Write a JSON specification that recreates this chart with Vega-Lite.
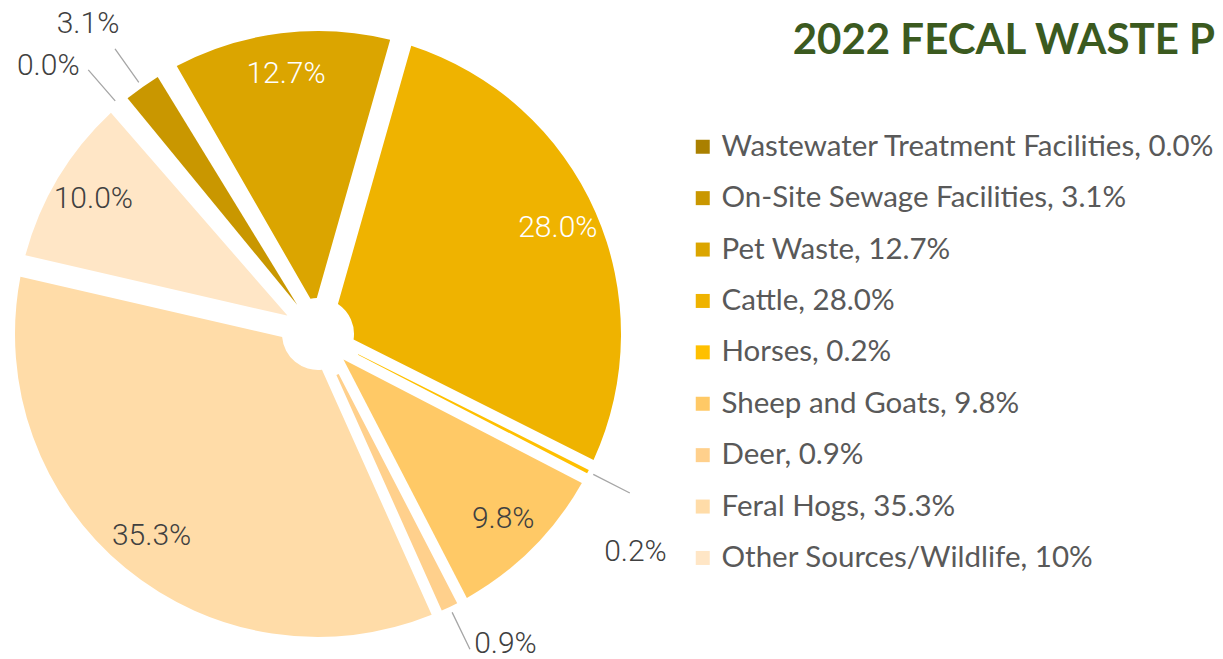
{
  "$schema": "https://vega.github.io/schema/vega-lite/v6.json",
  "width": 636,
  "height": 648,
  "autosize": {"type": "none"},
  "padding": {"left": 0, "top": 10, "right": 587, "bottom": 1},
  "background": "white",
  "config": {"view": {"stroke": null}},
  "data": {
    "values": [
      {"rank": 1, "source": "Wastewater Treatment Facilities, 0.0%", "share": 0.0, "label": "0.0%"},
      {"rank": 2, "source": "On-Site Sewage Facilities, 3.1%", "share": 3.1, "label": "3.1%"},
      {"rank": 3, "source": "Pet Waste, 12.7%", "share": 12.7, "label": "12.7%"},
      {"rank": 4, "source": "Cattle, 28.0%", "share": 28.0, "label": "28.0%"},
      {"rank": 5, "source": "Horses, 0.2%", "share": 0.2, "label": "0.2%"},
      {"rank": 6, "source": "Sheep and Goats, 9.8%", "share": 9.8, "label": "9.8%"},
      {"rank": 7, "source": "Deer, 0.9%", "share": 0.9, "label": "0.9%"},
      {"rank": 8, "source": "Feral Hogs, 35.3%", "share": 35.3, "label": "35.3%"},
      {"rank": 9, "source": "Other Sources/Wildlife, 10%", "share": 10.0, "label": "10.0%"}
    ]
  },
  "encoding": {
    "theta": {"field": "share", "type": "quantitative", "stack": true, "scale": {"range": [-0.716, 5.567]}},
    "order": {"field": "rank", "type": "quantitative", "sort": "ascending"}
  },
  "layer": [
    {
      "mark": {"type": "arc", "outerRadius": 303, "innerRadius": 36, "padAngle": 0.072},
      "encoding": {
        "color": {
          "field": "source",
          "type": "nominal",
          "sort": null,
          "scale": {
            "domain": [
              "Wastewater Treatment Facilities, 0.0%",
              "On-Site Sewage Facilities, 3.1%",
              "Pet Waste, 12.7%",
              "Cattle, 28.0%",
              "Horses, 0.2%",
              "Sheep and Goats, 9.8%",
              "Deer, 0.9%",
              "Feral Hogs, 35.3%",
              "Other Sources/Wildlife, 10%"
            ],
            "range": ["#AA8000", "#C99700", "#DBA500", "#EFB300", "#FFC000", "#FFC966", "#FFD08C", "#FFDCA8", "#FFE6C6"]
          },
          "legend": {
            "title": "2022 FECAL WASTE P",
            "titleFont": "Lato",
            "titleFontSize": 42,
            "titleFontWeight": "bold",
            "titleColor": "#3B5A1F",
            "titleAnchor": "end",
            "titleOrient": "top",
            "titlePadding": 69,
            "titleLimit": 1000,
            "orient": "none",
            "legendX": 688,
            "legendY": 11,
            "padding": 0,
            "symbolType": "square",
            "symbolSize": 196,
            "symbolStrokeWidth": 0,
            "symbolOpacity": 1,
            "labelFont": "Lato",
            "labelFontSize": 29.5,
            "labelColor": "#595959",
            "labelOffset": 4,
            "labelLimit": 700,
            "rowPadding": 20.4
          }
        },
        "fillOpacity": {"condition": {"test": "datum.share < 1", "value": 0}, "value": 1}
      }
    },
    {
      "mark": {"type": "arc", "outerRadius": 303, "innerRadius": 45, "padAngle": 0},
      "encoding": {
        "color": {"field": "source", "type": "nominal", "sort": null},
        "fillOpacity": {"condition": {"test": "datum.share < 1", "value": 1}, "value": 0}
      }
    },
    {
      "mark": {"type": "arc", "outerRadius": 350, "innerRadius": 309, "padAngle": 1, "fill": null, "stroke": "#A6A6A6", "strokeWidth": 1.3},
      "encoding": {
        "detail": {"field": "source", "type": "nominal"},
        "strokeOpacity": {"condition": {"test": "datum.share < 5", "value": 1}, "value": 0}
      }
    },
    {
      "mark": {"type": "text", "radius": 262, "font": "Roboto", "fontSize": 30, "fontWeight": 300},
      "encoding": {
        "detail": {"field": "source", "type": "nominal"},
        "text": {"condition": {"test": "datum.share >= 5", "field": "label", "type": "nominal"}, "value": ""},
        "color": {"condition": {"test": "datum.rank == 3 || datum.rank == 4", "value": "#FFFFFF"}, "value": "#404040"}
      }
    },
    {
      "mark": {"type": "text", "radius": 388, "dx": -5, "dy": 6, "font": "Roboto", "fontSize": 30, "fontWeight": 300, "color": "#404040"},
      "encoding": {
        "detail": {"field": "source", "type": "nominal"},
        "text": {"condition": {"test": "datum.rank == 2", "field": "label", "type": "nominal"}, "value": ""}
      }
    },
    {
      "mark": {"type": "text", "radius": 385, "dx": -17, "dy": 22, "font": "Roboto", "fontSize": 30, "fontWeight": 300, "color": "#404040"},
      "encoding": {
        "detail": {"field": "source", "type": "nominal"},
        "text": {"condition": {"test": "datum.rank == 1", "field": "label", "type": "nominal"}, "value": ""}
      }
    },
    {
      "mark": {"type": "text", "radius": 381, "dx": -22, "dy": 45, "font": "Roboto", "fontSize": 30, "fontWeight": 300, "color": "#404040"},
      "encoding": {
        "detail": {"field": "source", "type": "nominal"},
        "text": {"condition": {"test": "datum.rank == 5", "field": "label", "type": "nominal"}, "value": ""}
      }
    },
    {
      "mark": {"type": "text", "radius": 365, "dx": 29, "dy": -19, "font": "Roboto", "fontSize": 30, "fontWeight": 300, "color": "#404040"},
      "encoding": {
        "detail": {"field": "source", "type": "nominal"},
        "text": {"condition": {"test": "datum.rank == 7", "field": "label", "type": "nominal"}, "value": ""}
      }
    }
  ]
}
